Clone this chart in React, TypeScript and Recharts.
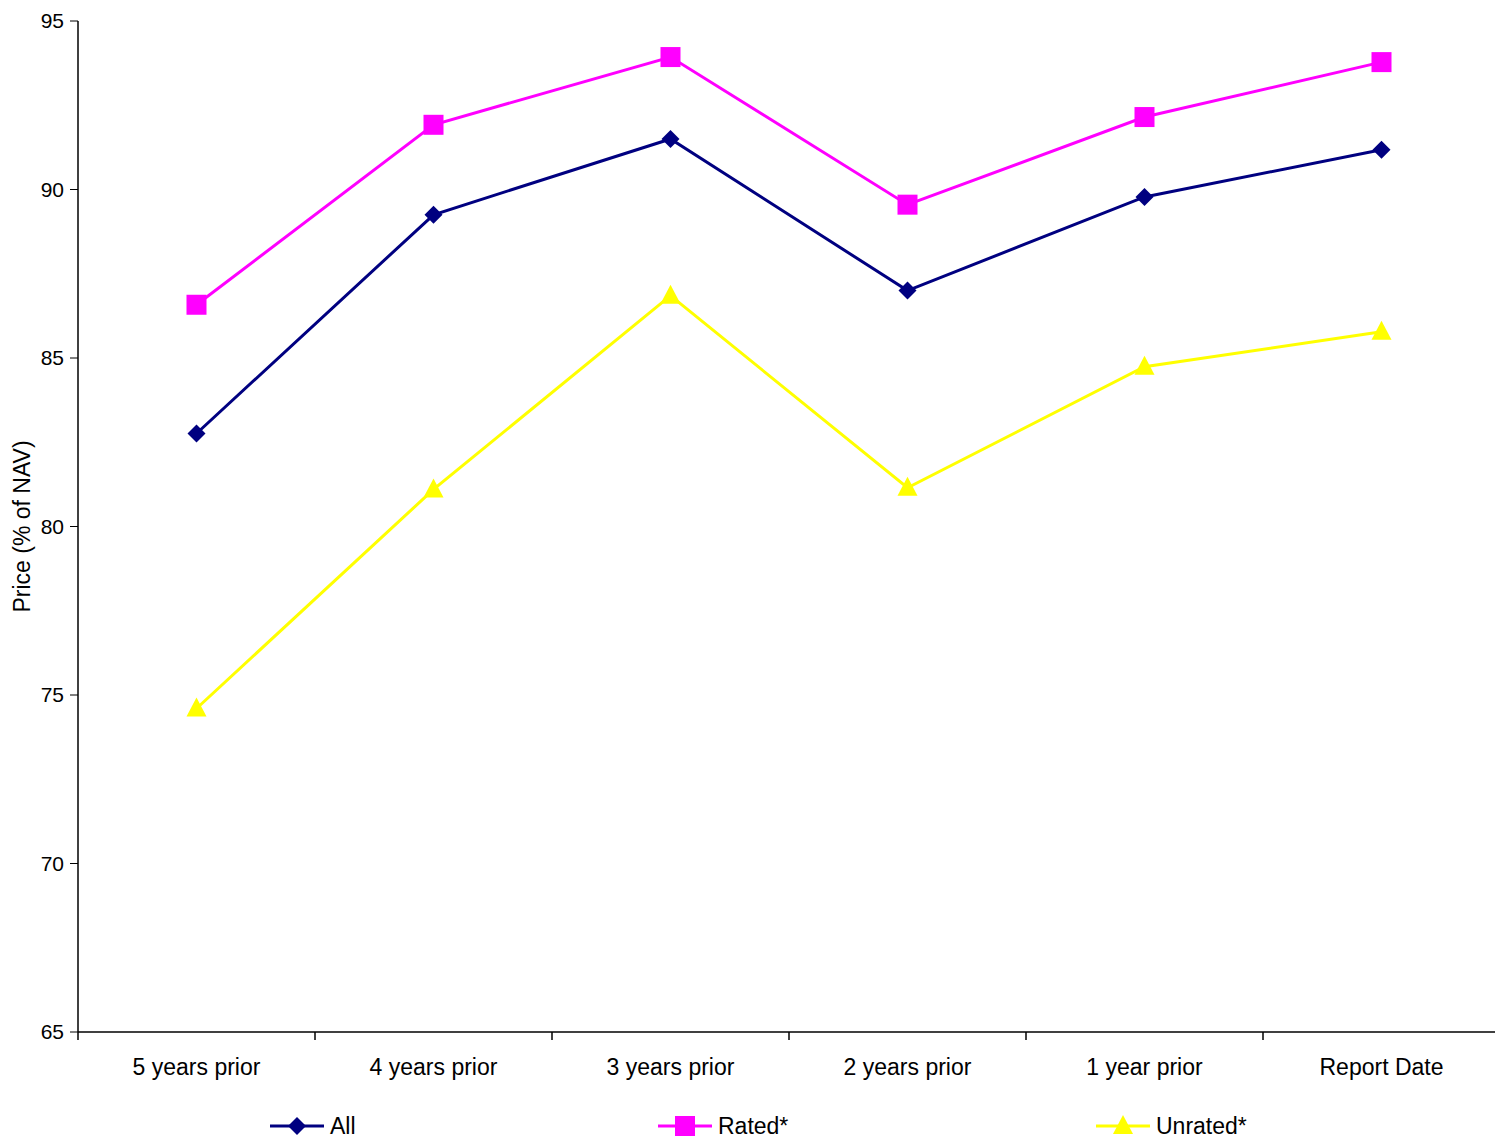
import { LineChart, Line, XAxis, YAxis, Legend } from 'recharts';

const categories = ['5 years prior', '4 years prior', '3 years prior', '2 years prior', '1 year prior', 'Report Date'];
const allValues = [82.76, 89.25, 91.5, 87.0, 89.78, 91.18];
const ratedValues = [86.58, 91.92, 93.93, 89.55, 92.15, 93.78];
const unratedValues = [74.6, 81.1, 86.85, 81.15, 84.74, 85.78];
const yTicks = [65, 70, 75, 80, 85, 90, 95];

const data = categories.map((c, i) => ({
  x: i + 0.5,
  category: c,
  all: allValues[i],
  rated: ratedValues[i],
  unrated: unratedValues[i],
}));

const xTicks = Array.from({ length: 13 }, (_, i) => i / 2);

const font = '"Liberation Sans", Arial, sans-serif';

function XTick(props: any) {
  const { x, y, payload } = props;
  const v = payload.value;
  if (Number.isInteger(v)) {
    return <line x1={x} x2={x} y1={y - 8} y2={y} stroke="#000" strokeWidth={1.5} />;
  }
  return (
    <text x={x} y={y + 35} textAnchor="middle" fontSize={23} fontFamily={font} fill="#000">
      {categories[Math.floor(v)]}
    </text>
  );
}

function Diamond({ cx, cy }: any) {
  return <path d={`M${cx},${cy - 9}L${cx + 9},${cy}L${cx},${cy + 9}L${cx - 9},${cy}Z`} fill="#000080" />;
}
function Square({ cx, cy }: any) {
  return <rect x={cx - 10} y={cy - 10} width={20} height={20} fill="#FF00FF" />;
}
function Triangle({ cx, cy }: any) {
  return <path d={`M${cx},${cy - 11}L${cx + 10},${cy + 8}L${cx - 10},${cy + 8}Z`} fill="#FFFF00" />;
}

const legendItems = [
  { label: 'All', color: '#000080', Marker: Diamond, left: 268 },
  { label: 'Rated*', color: '#FF00FF', Marker: Square, left: 656 },
  { label: 'Unrated*', color: '#FFFF00', Marker: Triangle, left: 1094 },
];

function LegendContent() {
  return (
    <div style={{ position: 'relative', height: 30, top: 4, fontFamily: font, fontSize: 23, lineHeight: '24px' }}>
      {legendItems.map(({ label, color, Marker, left }) => (
        <div key={label} style={{ position: 'absolute', left: left, top: 0, display: 'flex', alignItems: 'center' }}>
          <svg width={58} height={24}>
            <line x1={2} x2={56} y1={12} y2={12} stroke={color} strokeWidth={3} />
            <Marker cx={29} cy={12} />
          </svg>
          <span style={{ marginLeft: 4 }}>{label}</span>
        </div>
      ))}
    </div>
  );
}

export default function App() {
  return (
    <div style={{ position: 'absolute', left: 0, top: 0, background: '#fff' }}>
      <LineChart width={1495} height={1140} data={data} margin={{ top: 21, right: -5, left: 0, bottom: 0 }}>
        <XAxis
          dataKey="x"
          type="number"
          domain={[0, 6]}
          ticks={xTicks}
          interval={0}
          tick={<XTick />}
          tickLine={false}
          axisLine={{ stroke: '#000', strokeWidth: 1.5 }}
          height={78}
        />
        <YAxis
          domain={[65, 95]}
          ticks={yTicks}
          interval={0}
          width={78}
          tick={{ fontSize: 21, fontFamily: font, fill: '#000' }}
          tickSize={8}
          tickMargin={6}
          tickLine={{ stroke: '#000' }}
          axisLine={{ stroke: '#000', strokeWidth: 1.5 }}
          label={{
            value: 'Price (% of NAV)',
            angle: -90,
            position: 'insideLeft',
            offset: 22,
            style: { fontSize: 23, fontFamily: font, fill: '#000', textAnchor: 'middle' },
          }}
        />
        <Legend verticalAlign="bottom" content={<LegendContent />} />
        <Line dataKey="all" stroke="#000080" strokeWidth={3} dot={<Diamond />} activeDot={false} isAnimationActive={false} />
        <Line dataKey="rated" stroke="#FF00FF" strokeWidth={3} dot={<Square />} activeDot={false} isAnimationActive={false} />
        <Line dataKey="unrated" stroke="#FFFF00" strokeWidth={3} dot={<Triangle />} activeDot={false} isAnimationActive={false} />
      </LineChart>
    </div>
  );
}
